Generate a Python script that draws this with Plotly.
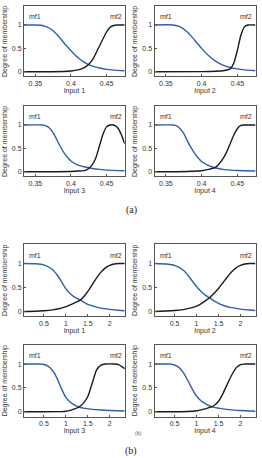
import plotly.graph_objects as go

W, H = 262, 458

# ---------------- data ----------------
# Group (a): inputs on [0.334, 0.4755]
a1_x_mf1 = [0.334, 0.35, 0.36, 0.37, 0.38, 0.39, 0.40, 0.41, 0.42, 0.43, 0.44, 0.45, 0.46, 0.4755]
a1_mf1 = [1.0, 1.0, 0.99, 0.93, 0.80, 0.62, 0.45, 0.30, 0.19, 0.12, 0.08, 0.05, 0.035, 0.02]
a1_x_mf2 = [0.334, 0.39, 0.40, 0.41, 0.42, 0.43, 0.44, 0.45, 0.455, 0.46, 0.465, 0.4755]
a1_mf2 = [0.0, 0.005, 0.015, 0.04, 0.10, 0.25, 0.55, 0.85, 0.95, 0.99, 1.0, 1.0]

a2_x_mf1 = [0.334, 0.36, 0.37, 0.38, 0.39, 0.40, 0.41, 0.42, 0.43, 0.44, 0.45, 0.46, 0.4755]
a2_mf1 = [1.0, 1.0, 0.96, 0.85, 0.68, 0.50, 0.34, 0.22, 0.14, 0.09, 0.06, 0.04, 0.02]
a2_x_mf2 = [0.334, 0.40, 0.42, 0.43, 0.44, 0.445, 0.45, 0.455, 0.46, 0.465, 0.4755]
a2_mf2 = [0.0, 0.003, 0.01, 0.02, 0.06, 0.18, 0.45, 0.78, 0.96, 1.0, 1.0]

a3_x_mf1 = [0.334, 0.36, 0.365, 0.37, 0.375, 0.38, 0.385, 0.39, 0.395, 0.40, 0.41, 0.42, 0.43, 0.44, 0.45, 0.4755]
a3_mf1 = [1.0, 1.0, 0.98, 0.93, 0.83, 0.69, 0.54, 0.41, 0.31, 0.23, 0.14, 0.10, 0.07, 0.05, 0.035, 0.02]
a3_x_mf2 = [0.334, 0.40, 0.41, 0.42, 0.425, 0.43, 0.435, 0.44, 0.445, 0.45, 0.455, 0.46, 0.465, 0.47, 0.4755]
a3_mf2 = [0.0, 0.005, 0.015, 0.03, 0.07, 0.15, 0.30, 0.55, 0.80, 0.96, 1.0, 1.0, 0.95, 0.82, 0.60]

a4_x_mf1 = [0.334, 0.36, 0.365, 0.37, 0.375, 0.38, 0.385, 0.39, 0.395, 0.40, 0.41, 0.42, 0.43, 0.44, 0.45, 0.4755]
a4_mf1 = [1.0, 1.0, 0.98, 0.92, 0.82, 0.66, 0.52, 0.40, 0.30, 0.22, 0.13, 0.08, 0.05, 0.035, 0.025, 0.015]
a4_x_mf2 = [0.334, 0.38, 0.40, 0.41, 0.42, 0.43, 0.435, 0.44, 0.445, 0.45, 0.455, 0.46, 0.4755]
a4_mf2 = [0.0, 0.005, 0.02, 0.05, 0.10, 0.28, 0.42, 0.60, 0.78, 0.92, 0.99, 1.0, 1.0]

# Group (b): inputs on [0.045, 2.34]
b1_x_mf1 = [0.045, 0.3, 0.5, 0.7, 0.8, 0.9, 1.0, 1.1, 1.2, 1.3, 1.4, 1.5, 1.6, 1.7, 1.8, 2.0, 2.2, 2.34]
b1_mf1 = [1.0, 0.995, 0.97, 0.87, 0.76, 0.62, 0.47, 0.37, 0.30, 0.25, 0.20, 0.15, 0.12, 0.09, 0.07, 0.045, 0.025, 0.015]
b1_x_mf2 = [0.045, 0.3, 0.5, 0.7, 0.9, 1.0, 1.1, 1.2, 1.3, 1.4, 1.5, 1.6, 1.7, 1.8, 1.9, 2.0, 2.1, 2.2, 2.34]
b1_mf2 = [0.0, 0.005, 0.015, 0.035, 0.07, 0.10, 0.14, 0.18, 0.22, 0.30, 0.42, 0.56, 0.70, 0.82, 0.91, 0.96, 0.99, 1.0, 1.0]

b2_x_mf1 = [0.045, 0.3, 0.5, 0.7, 0.8, 0.9, 1.0, 1.1, 1.2, 1.3, 1.4, 1.5, 1.6, 1.7, 1.8, 2.0, 2.2, 2.34]
b2_mf1 = [1.0, 0.99, 0.96, 0.86, 0.76, 0.64, 0.52, 0.42, 0.34, 0.28, 0.22, 0.17, 0.13, 0.10, 0.08, 0.05, 0.03, 0.02]
b2_x_mf2 = [0.045, 0.3, 0.5, 0.7, 0.9, 1.0, 1.1, 1.2, 1.3, 1.4, 1.5, 1.6, 1.7, 1.8, 1.9, 2.0, 2.1, 2.2, 2.34]
b2_mf2 = [0.0, 0.01, 0.02, 0.04, 0.08, 0.11, 0.16, 0.22, 0.29, 0.38, 0.48, 0.60, 0.72, 0.83, 0.91, 0.96, 0.99, 1.0, 1.0]

b3_x_mf1 = [0.045, 0.4, 0.5, 0.6, 0.7, 0.8, 0.9, 1.0, 1.1, 1.2, 1.3, 1.4, 1.6, 1.8, 2.0, 2.34]
b3_mf1 = [1.0, 1.0, 0.99, 0.95, 0.86, 0.70, 0.48, 0.30, 0.20, 0.14, 0.10, 0.075, 0.05, 0.035, 0.025, 0.015]
b3_x_mf2 = [0.045, 0.9, 1.0, 1.1, 1.2, 1.3, 1.4, 1.5, 1.6, 1.7, 1.8, 1.9, 2.1, 2.2, 2.3, 2.34]
b3_mf2 = [0.0, 0.003, 0.01, 0.03, 0.06, 0.10, 0.18, 0.32, 0.60, 0.88, 0.98, 1.0, 1.0, 0.99, 0.93, 0.90]

b4_x_mf1 = [0.045, 0.4, 0.5, 0.6, 0.7, 0.8, 0.9, 1.0, 1.1, 1.2, 1.3, 1.4, 1.6, 1.8, 2.0, 2.34]
b4_mf1 = [1.0, 1.0, 0.98, 0.93, 0.82, 0.66, 0.48, 0.33, 0.23, 0.17, 0.12, 0.09, 0.06, 0.04, 0.025, 0.01]
b4_x_mf2 = [0.045, 0.8, 1.0, 1.1, 1.2, 1.3, 1.4, 1.5, 1.6, 1.7, 1.8, 1.9, 2.0, 2.1, 2.34]
b4_mf2 = [0.0, 0.005, 0.02, 0.04, 0.06, 0.09, 0.13, 0.22, 0.38, 0.58, 0.77, 0.92, 0.99, 1.0, 1.0]

a_range = [0.334, 0.4755]
a_ticks = [0.35, 0.4, 0.45]
a_ticktext = ["0.35", "0.4", "0.45"]
b_range = [0.045, 2.34]
b_ticks = [0.5, 1, 1.5, 2]
b_ticktext = ["0.5", "1", "1.5", "2"]
y_range = [-0.1, 1.4]
y_ticks = [0, 0.5, 1]
y_ticktext = ["0", "0.5", "1"]

panels = [
    ("Input 1", a1_x_mf1, a1_mf1, a1_x_mf2, a1_mf2, "a"),
    ("Input 2", a2_x_mf1, a2_mf1, a2_x_mf2, a2_mf2, "a"),
    ("Input 3", a3_x_mf1, a3_mf1, a3_x_mf2, a3_mf2, "a"),
    ("Input 4", a4_x_mf1, a4_mf1, a4_x_mf2, a4_mf2, "a"),
    ("Input 1", b1_x_mf1, b1_mf1, b1_x_mf2, b1_mf2, "b"),
    ("Input 2", b2_x_mf1, b2_mf1, b2_x_mf2, b2_mf2, "b"),
    ("Input 3", b3_x_mf1, b3_mf1, b3_x_mf2, b3_mf2, "b"),
    ("Input 4", b4_x_mf1, b4_mf1, b4_x_mf2, b4_mf2, "b"),
]

# ---------------- layout geometry (pixels) ----------------
cols_px = [(24, 124.7), (154.5, 255.5)]
rows_px = [(6.3, 76.4), (106.3, 176.4), (244.3, 316.3), (345.0, 416.5)]

BLUE = "#2f5fa8"
BLACK = "#1a1a1a"
AX = "#555555"
FONT = "Liberation Sans, Arial, sans-serif"

fig = go.Figure()
layout = dict(
    width=W, height=H, margin=dict(l=0, r=0, t=0, b=0),
    paper_bgcolor="white", plot_bgcolor="white", showlegend=False,
    font=dict(family=FONT, size=7, color="#333333"),
)
annotations = []

for i, (title, x1, y1, x2, y2, grp) in enumerate(panels):
    r, c = divmod(i, 2)
    n = i + 1
    xa = "x" if n == 1 else f"x{n}"
    ya = "y" if n == 1 else f"y{n}"
    fig.add_trace(go.Scatter(x=x1, y=y1, mode="lines", line=dict(color=BLUE, width=1.4, shape="spline", smoothing=0.6),
                             xaxis=xa, yaxis=ya))
    fig.add_trace(go.Scatter(x=x2, y=y2, mode="lines", line=dict(color=BLACK, width=1.4, shape="spline", smoothing=0.6),
                             xaxis=xa, yaxis=ya))
    cl, cr = cols_px[c]
    rt, rb = rows_px[r]
    xr = a_range if grp == "a" else b_range
    tv = a_ticks if grp == "a" else b_ticks
    tt = a_ticktext if grp == "a" else b_ticktext
    layout[f"xaxis{'' if n == 1 else n}"] = dict(
        domain=[cl / W, cr / W], anchor=ya, range=xr, tickvals=tv, ticktext=tt,
        showgrid=False, zeroline=False, showline=True, mirror=True, linecolor=AX, linewidth=1,
        ticks="inside", ticklen=2, tickcolor=AX,
        tickfont=dict(size=7, color="#333333"),
        title=dict(text=title, font=dict(size=7, color="#333333"), standoff=2),
    )
    layout[f"yaxis{'' if n == 1 else n}"] = dict(
        domain=[1 - rb / H, 1 - rt / H], anchor=xa, range=y_range, tickvals=y_ticks, ticktext=y_ticktext,
        showgrid=False, zeroline=False, showline=True, mirror=True, linecolor=AX, linewidth=1,
        ticks="inside", ticklen=2, tickcolor=AX,
        tickfont=dict(size=7, color="#333333"),
        title=dict(text="Degree of membership", font=dict(size=7, color="#333333"), standoff=3),
    )
    annotations.append(dict(text="mf1", xref=f"{xa} domain", yref=f"{ya} domain", x=0.03, y=0.85,
                            xanchor="left", yanchor="middle", showarrow=False,
                            font=dict(size=7, color="#333333")))
    annotations.append(dict(text="mf2", xref=f"{xa} domain", yref=f"{ya} domain", x=0.99, y=0.85,
                            xanchor="right", yanchor="middle", showarrow=False,
                            font=dict(size=7, color="#333333")))

annotations.append(dict(text="(a)", xref="paper", yref="paper", x=0.5, y=1 - 210 / H, showarrow=False,
                        xanchor="center", yanchor="middle",
                        font=dict(family="Liberation Serif, Times New Roman, serif", size=10, color="#222222")))
annotations.append(dict(text="(b)", xref="paper", yref="paper", x=0.5, y=1 - 451 / H, showarrow=False,
                        xanchor="center", yanchor="middle",
                        font=dict(family="Liberation Serif, Times New Roman, serif", size=10, color="#222222")))
annotations.append(dict(text="(b)", xref="paper", yref="paper", x=138 / W, y=1 - 433 / H, showarrow=False,
                        xanchor="center", yanchor="middle",
                        font=dict(size=5, color="#555555")))

layout["annotations"] = annotations
fig.update_layout(**layout)
fig.write_html("out.html")
